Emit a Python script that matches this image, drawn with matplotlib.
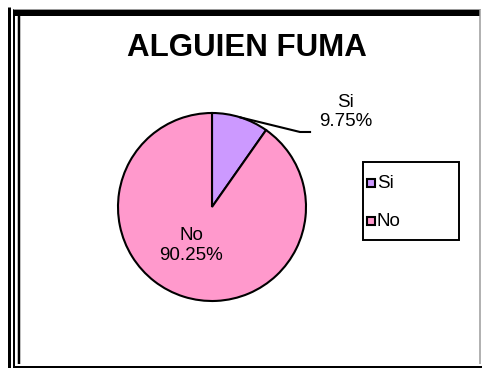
import numpy as np
import matplotlib.pyplot as plt
from matplotlib.lines import Line2D
from matplotlib.patches import Rectangle

plt.rcParams['font.family'] = ['Liberation Sans', 'DejaVu Sans']

categorias = ['Si', 'No']
porcentajes = [9.75, 90.25]
colores = ['#CC99FF', '#FF99CC']
titulo = 'ALGUIEN FUMA'

W, H = 482, 368
fig = plt.figure(figsize=(W / 100, H / 100), dpi=100)


def px(x, y):
    # pixel coords (origin top-left) -> figure fraction
    return x / W, 1 - y / H


def linea(x0, y0, x1, y1, lw, color='black'):
    (a, b), (c, d) = px(x0, y0), px(x1, y1)
    fig.add_artist(Line2D([a, c], [b, d], lw=lw * 0.72, color=color,
                          solid_capstyle='butt'))


# marco del documento
linea(8.5, 7, 8.5, 368, 3)
linea(13.5, 9, 13.5, 368, 2)
linea(18.5, 16, 18.5, 364, 2.5)
linea(13, 12.5, 480, 12.5, 6)
linea(13, 9, 480, 9, 1, '#999999')
linea(480, 9, 480, 364, 1.5, '#999999')
linea(13, 367, 482, 367, 2)

# torta
cx, cy, r = 212, 207, 94
x0, y0 = px(cx - r, cy + r)
ax = fig.add_axes([x0, y0, 2 * r / W, 2 * r / H])
ax.pie(porcentajes, colors=colores, startangle=90, counterclock=False,
       wedgeprops=dict(edgecolor='black', linewidth=1.5))
ax.set_xlim(-1, 1)
ax.set_ylim(-1, 1)
ax.axis('off')

# linea guia de la porcion "Si"
ang = np.deg2rad(90 - porcentajes[0] / 100 * 360 / 2)
ax.plot([np.cos(ang), 0.936, 1.043], [np.sin(ang), 0.798, 0.798],
        color='black', lw=1.5, clip_on=False)
ax.text(1.42, 1.01, f'{categorias[0]}\n{porcentajes[0]:.2f}%', ha='center',
        va='center', fontsize=13.5, linespacing=1.2)
ax.text(-0.22, -0.41, f'{categorias[1]}\n{porcentajes[1]:.2f}%', ha='center',
        va='center', fontsize=13.5, linespacing=1.2)

fig.text(*px(247, 48), titulo, ha='center', va='center', fontsize=22.5,
         fontweight='bold')

# leyenda
lx, ly = px(363, 240)
fig.add_artist(Rectangle((lx, ly), 96 / W, 78 / H, transform=fig.transFigure,
                         fill=False, edgecolor='black', lw=1.4))
for i, (cat, col) in enumerate(zip(categorias, colores)):
    yy = 183 + i * 38
    sx, sy = px(367, yy + 4)
    fig.add_artist(Rectangle((sx, sy), 8 / W, 8 / H, transform=fig.transFigure,
                             facecolor=col, edgecolor='black', lw=1.5))
    fig.text(*px(377, yy + 1), cat, ha='left', va='center', fontsize=13.5)

fig.savefig('out.png', dpi=100)
